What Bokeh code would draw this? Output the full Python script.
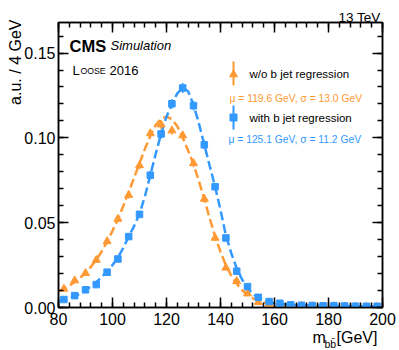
import numpy as np
from bokeh.plotting import figure
from bokeh.models import (Range1d, LinearAxis, Label, SingleIntervalTicker, PrintfTickFormatter,
                          CustomLabelingPolicy)
from bokeh.core.properties import value
from bokeh.embed import file_html
from bokeh.resources import INLINE

# ---------------- data ----------------
bin_centers = [82, 86, 90, 94, 98, 102, 106, 110, 114, 118, 122, 126, 130, 134, 138,
               142, 146, 150, 154, 158, 162, 166, 170, 174, 178, 182, 186, 190, 194, 198]

wo_reg = [0.0110, 0.0159, 0.0202, 0.0280, 0.0390, 0.0522, 0.0663, 0.0838, 0.1026, 0.1078,
          0.1043, 0.1014, 0.0850, 0.0640, 0.0410, 0.0234, 0.0155, 0.0082, 0.0031, 0.0018,
          0.0013, 0.0010, 0.0009, 0.0007, 0.0006, 0.0006, 0.0005, 0.0005, 0.0004, 0.0004]
wo_err = [0.0010, 0.0012, 0.0013, 0.0015, 0.0017, 0.0019, 0.0021, 0.0023, 0.0025, 0.0026,
          0.0025, 0.0025, 0.0023, 0.0020, 0.0016, 0.0012, 0.0010, 0.0008, 0.0005, 0.0004,
          0.0003, 0.0003, 0.0003, 0.0002, 0.0002, 0.0002, 0.0002, 0.0002, 0.0002, 0.0002]

with_reg = [0.0047, 0.0070, 0.0104, 0.0135, 0.0208, 0.0286, 0.0418, 0.0549, 0.0780, 0.1023,
            0.1201, 0.1294, 0.1190, 0.0959, 0.0712, 0.0410, 0.0214, 0.0123, 0.0060, 0.0035,
            0.0025, 0.0016, 0.0013, 0.0012, 0.0010, 0.0011, 0.0009, 0.0008, 0.0007, 0.0007]
with_err = [0.0007, 0.0008, 0.0010, 0.0011, 0.0014, 0.0016, 0.0019, 0.0022, 0.0025, 0.0027,
            0.0028, 0.0029, 0.0028, 0.0025, 0.0021, 0.0016, 0.0012, 0.0009, 0.0006, 0.0005,
            0.0004, 0.0003, 0.0003, 0.0003, 0.0003, 0.0003, 0.0002, 0.0002, 0.0002, 0.0002]

# fitted curves
fit_wo_x = [80, 82, 84, 86, 88, 90, 92, 94, 96, 98, 100, 102, 104, 106, 108, 110, 112, 114,
            116, 118, 120, 122, 124, 126, 128, 130, 132, 134, 136, 138, 140, 142, 144, 146,
            148, 150, 152, 154, 156, 158, 160, 164, 170, 180, 190, 200]
fit_wo_y = [0.0095, 0.0110, 0.0128, 0.0150, 0.0175, 0.0205, 0.0240, 0.0282, 0.0330, 0.0388,
            0.0452, 0.0522, 0.0598, 0.0680, 0.0765, 0.0850, 0.0935, 0.1012, 0.1075, 0.1113,
            0.1125, 0.1110, 0.1068, 0.1002, 0.0925, 0.0845, 0.0745, 0.0640, 0.0525, 0.0420,
            0.0328, 0.0250, 0.0188, 0.0140, 0.0102, 0.0075, 0.0055, 0.0040, 0.0030, 0.0022,
            0.0017, 0.0011, 0.0007, 0.0004, 0.0003, 0.0002]

fit_with_x = [80, 82, 84, 86, 88, 90, 92, 94, 96, 98, 100, 102, 104, 106, 108, 110, 112, 114,
              116, 118, 120, 122, 124, 126, 128, 130, 132, 134, 136, 138, 140, 142, 144, 146,
              148, 150, 152, 154, 156, 158, 160, 164, 170, 180, 190, 200]
fit_with_y = [0.0035, 0.0043, 0.0053, 0.0066, 0.0082, 0.0102, 0.0125, 0.0150, 0.0180, 0.0213,
              0.0250, 0.0295, 0.0352, 0.0418, 0.0480, 0.0552, 0.0655, 0.0780, 0.0905, 0.1025,
              0.1125, 0.1200, 0.1262, 0.1295, 0.1275, 0.1195, 0.1085, 0.0960, 0.0835, 0.0712,
              0.0575, 0.0425, 0.0320, 0.0232, 0.0165, 0.0115, 0.0080, 0.0057, 0.0042, 0.0032,
              0.0026, 0.0019, 0.0013, 0.0010, 0.0008, 0.0006]

labels = ["w/o b jet regression", "with b jet regression"]
params = ["\u03bc = 119.6 GeV, \u03c3  = 13.0 GeV", "\u03bc = 125.1 GeV,  \u03c3  = 11.2 GeV"]

ORANGE = "#ff9933"
BLUE = "#3399ff"
FONT = "Liberation Sans"

XMIN, XMAX = 80, 200
YMIN, YMAX = 0.0, 0.168

W, H = 399, 350
BL, BR, BT, BB = 58, 17, 22, 43

p = figure(width=W, height=H, output_backend="svg", toolbar_location=None,
           x_range=Range1d(XMIN, XMAX), y_range=Range1d(YMIN, YMAX),
           min_border_left=BL, min_border_right=BR, min_border_top=BT, min_border_bottom=BB,
           x_axis_location="below", y_axis_location="left")
p.xgrid.visible = False
p.ygrid.visible = False
p.outline_line_color = "black"
p.outline_line_width = 1.5
p.background_fill_color = "white"
p.border_fill_color = "white"

# page-pixel -> data helpers for annotation placement
FX0, FX1 = BL, W - BR
FY0, FY1 = BT, H - BB
def X(px):
    return XMIN + (px - FX0) * (XMAX - XMIN) / (FX1 - FX0)
def Y(py):
    return YMIN + (FY1 - py) * (YMAX - YMIN) / (FY1 - FY0)

# axes
p.xaxis.ticker = SingleIntervalTicker(interval=20, num_minor_ticks=5)
p.yaxis.ticker = SingleIntervalTicker(interval=0.05, num_minor_ticks=5)
p.yaxis.formatter = PrintfTickFormatter(format="%.2f")
hide = CustomLabelingPolicy(code="""
const all = Array.from(indices)
for (const i of all) indices.unset(i)
return indices
""")
top_ax = LinearAxis(ticker=SingleIntervalTicker(interval=20, num_minor_ticks=5),
                    major_label_policy=hide, major_label_standoff=0)
right_ax = LinearAxis(ticker=SingleIntervalTicker(interval=0.05, num_minor_ticks=5),
                      major_label_policy=hide, major_label_standoff=0)
p.add_layout(top_ax, "above")
p.add_layout(right_ax, "right")

for ax in p.axis:
    ax.major_tick_in = 10
    ax.major_tick_out = 0
    ax.minor_tick_in = 5
    ax.minor_tick_out = 0
    ax.axis_line_width = 1.5
    ax.major_tick_line_width = 1.5
    ax.minor_tick_line_width = 1.5
    ax.axis_line_color = "black"
    ax.major_tick_line_color = "black"
    ax.minor_tick_line_color = "black"
    ax.major_label_text_font = FONT
    ax.major_label_text_font_size = "16px"
    ax.major_label_text_color = "black"
top_ax.major_label_text_font_size = "0px"
right_ax.major_label_text_font_size = "0px"
p.xaxis[0].major_label_standoff = 7
p.yaxis[0].major_label_standoff = 3

# fits
p.line(fit_wo_x, fit_wo_y, line_color=ORANGE, line_width=2.5, line_dash="9 4")
p.line(fit_with_x, fit_with_y, line_color=BLUE, line_width=2.5, line_dash="9 4")

# data points with error bars
bc = np.array(bin_centers, dtype=float)
wo = np.array(wo_reg); woe = np.array(wo_err)
wi = np.array(with_reg); wie = np.array(with_err)
p.segment(bc, wo - woe, bc, wo + woe, line_color=ORANGE, line_width=1.5)
p.scatter(bc, wo, marker="triangle", size=8, fill_color=ORANGE, line_color=ORANGE)
p.segment(bc, wi - wie, bc, wi + wie, line_color=BLUE, line_width=1.5)
p.scatter(bc, wi, marker="square", size=6.5, fill_color=BLUE, line_color=BLUE)

# legend (manual, ROOT style)
p.segment([X(233)], [Y(85)], [X(233)], [Y(61)], line_color=ORANGE, line_width=2)
p.scatter([X(233)], [Y(74)], marker="triangle", size=8, fill_color=ORANGE, line_color=ORANGE)
p.segment([X(233)], [Y(129)], [X(233)], [Y(105)], line_color=BLUE, line_width=2)
p.scatter([X(233)], [Y(117)], marker="square", size=7, fill_color=BLUE, line_color=BLUE)

def txt(x, y, s, size, color="black", align="left", baseline="middle", style="normal"):
    p.add_layout(Label(x=x, y=y, text=s, text_font=FONT, text_font_size=size,
                       text_color=color, text_align=align, text_baseline=baseline,
                       text_font_style=style))

def otxt(x, y, s, size, align="left", baseline="alphabetic", angle=0.0):
    # text outside the frame: glyph renderer on the overlay level
    p.text(x=[x], y=[y], text=[s], text_font=value(FONT), text_font_size=size,
           text_color="black", text_align=align, text_baseline=baseline, angle=angle,
           level="overlay")

txt(X(249), Y(73), labels[0], "11.5px")
txt(X(229), Y(98), params[0], "10.3px", color=ORANGE)
txt(X(249), Y(117), labels[1], "11.5px")
txt(X(228), Y(139), params[1], "10.3px", color=BLUE)

# CMS labels
txt(X(69), Y(45), "CMS", "16.5px", baseline="alphabetic", style="bold")
txt(X(110), Y(45), "Simulation", "13px", baseline="alphabetic", style="italic")
txt(X(72), Y(70), "L", "13px", baseline="alphabetic")
txt(X(80), Y(70), "OOSE", "8.7px", baseline="alphabetic")
txt(X(109), Y(70), "2016", "13px", baseline="alphabetic")

# texts outside the frame
otxt(X(380), Y(17), "13 TeV", "13.5px", align="right")
otxt(X(14.5), Y(19), "a.u. / 4 GeV", "16px", align="right", baseline="middle", angle=np.pi / 2)
otxt(X(312), Y(337), "m", "16px")
otxt(X(324), Y(343), "bb\u0304", "10.5px")
otxt(X(336), Y(337), "[GeV]", "16px")

open("out.html", "w").write(file_html(p, INLINE))
